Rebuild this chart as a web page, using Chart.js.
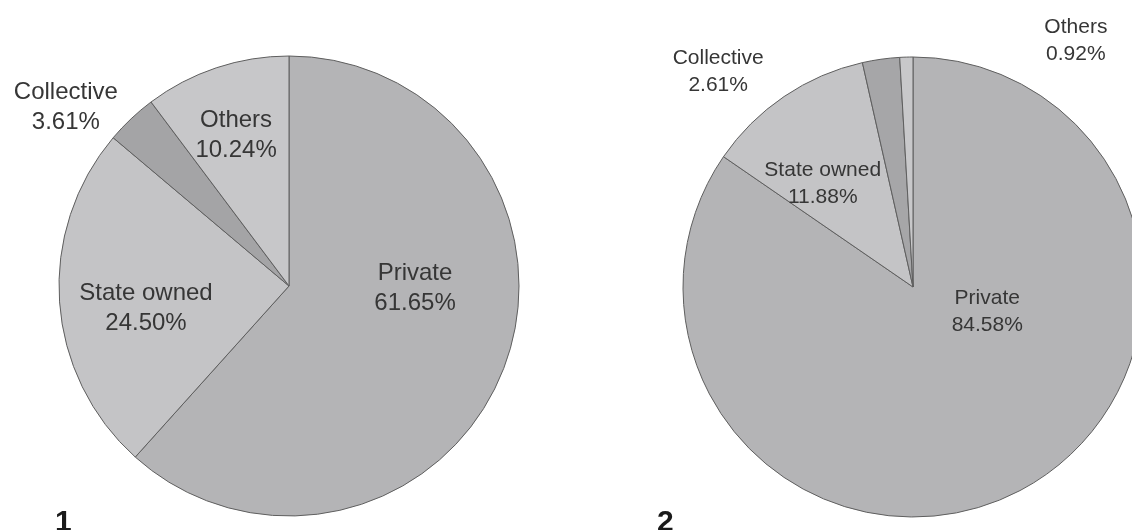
<!DOCTYPE html>
<html><head><meta charset="utf-8">
<script src="https://cdn.jsdelivr.net/npm/chart.js@4/dist/chart.umd.min.js"></script>
<style>
html,body{margin:0;padding:0;width:1132px;height:530px;overflow:hidden;background:#fff;}
#c1{position:absolute;left:0;top:0;}
#c2{position:absolute;left:566px;top:0;}
</style></head><body>
<canvas id="c1" width="566" height="530"></canvas>
<canvas id="c2" width="620" height="530"></canvas>
<script>
// ---- data ----
const categories = ['Private', 'State owned', 'Collective', 'Others'];
const shares1 = [61.65, 24.50, 3.61, 10.24];
const shares2 = [84.58, 11.88, 2.61, 0.92];
const panelNames = ['1', '2'];

// ---- styles / layout (kept apart from data) ----
const colors1 = ['#b4b4b6', '#c4c4c6', '#a4a4a6', '#c7c7c9'];
const colors2 = ['#b4b4b6', '#c4c4c6', '#a6a6a8', '#c8c8ca'];
// label anchor: [angle in degrees clockwise from 12 o'clock, distance as fraction of radius]
const labelPolar1 = [[90.9, 0.548], [261.3, 0.629], [308.7, 1.243], [340.7, 0.696]];
const labelPolar2 = [[108.7, 0.341], [318.9, 0.597], [317.8, 1.261], [33.5, 1.283]];

function labelPlugin(polar, fontSize, lineGap, panelName, panelX) {
  return {
    id: 'sliceLabels',
    afterDatasetsDraw(chart) {
      const ctx = chart.ctx;
      const meta = chart.getDatasetMeta(0);
      const values = chart.data.datasets[0].data;
      ctx.save();
      ctx.fillStyle = '#363636';
      ctx.textAlign = 'center';
      ctx.textBaseline = 'middle';
      ctx.font = fontSize + 'px "Liberation Sans", Arial, sans-serif';
      meta.data.forEach((arc, i) => {
        const a = polar[i][0] * Math.PI / 180;
        const d = polar[i][1] * arc.outerRadius;
        const x = arc.x + d * Math.sin(a);
        const y = arc.y - d * Math.cos(a);
        ctx.fillText(chart.data.labels[i], x, y - lineGap / 2);
        ctx.fillText(values[i].toFixed(2) + '%', x, y + lineGap / 2);
      });
      ctx.fillStyle = '#1a1a1a';
      ctx.textAlign = 'left';
      ctx.textBaseline = 'alphabetic';
      ctx.font = 'bold 30px "Liberation Sans Narrow", "Liberation Sans", Arial, sans-serif';
      ctx.fillText(panelName, panelX, 531);
      ctx.restore();
    }
  };
}

function makePie(id, values, colors, padding, polar, fontSize, lineGap, panelName, panelX) {
  return new Chart(document.getElementById(id), {
    type: 'pie',
    data: {
      labels: categories,
      datasets: [{
        data: values,
        backgroundColor: colors,
        borderColor: '#5e5e5e',
        borderWidth: 1
      }]
    },
    options: {
      responsive: false,
      animation: false,
      events: [],
      radius: 230,
      layout: { padding: padding },
      plugins: { legend: { display: false }, tooltip: { enabled: false } }
    },
    plugins: [labelPlugin(polar, fontSize, lineGap, panelName, panelX)]
  });
}

makePie('c1', shares1, colors1, { left: 59, right: 47, top: 56, bottom: 14 },
        labelPolar1, 24, 30, panelNames[0], 55);
makePie('c2', shares2, colors2, { left: 117, right: 43, top: 57, bottom: 13 },
        labelPolar2, 21, 27, panelNames[1], 91);
</script>
</body></html>
